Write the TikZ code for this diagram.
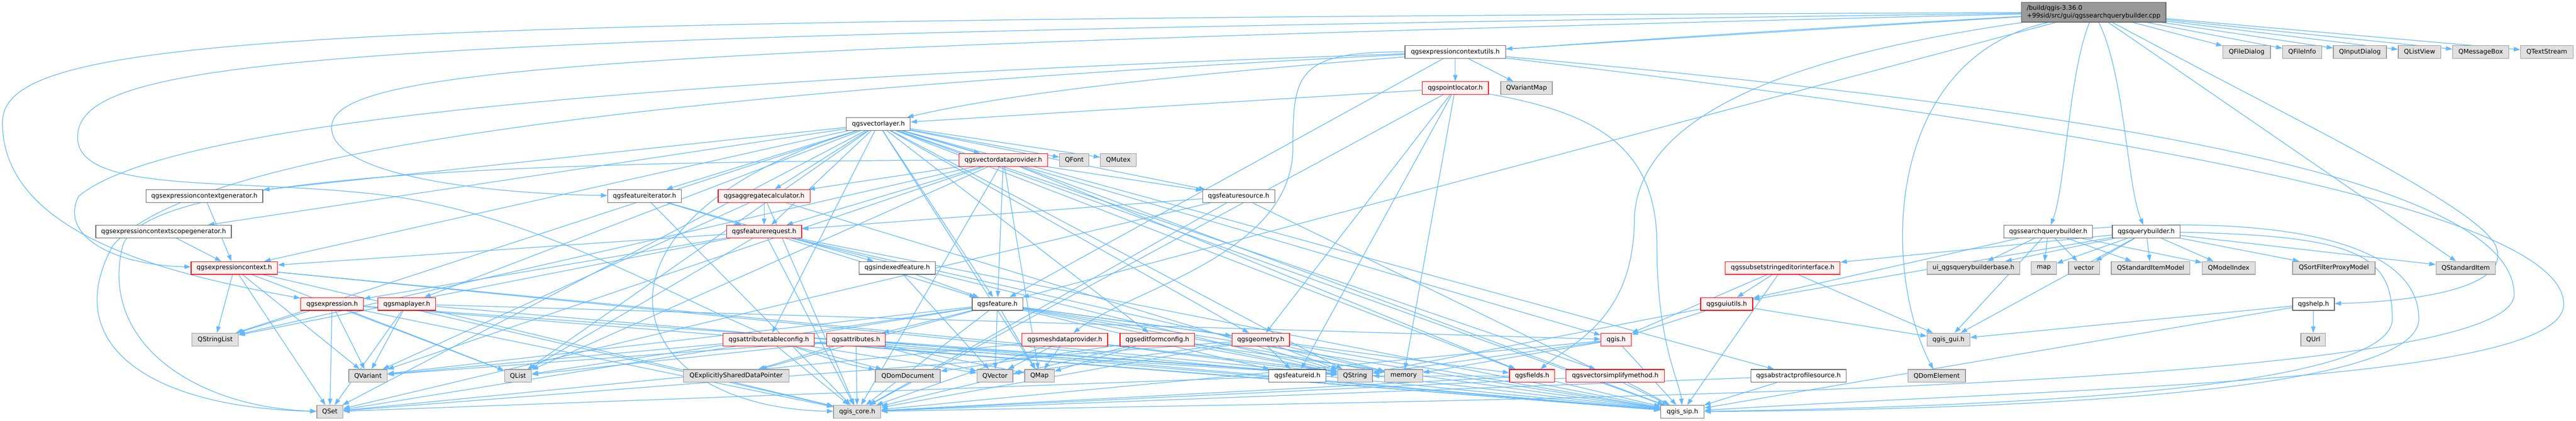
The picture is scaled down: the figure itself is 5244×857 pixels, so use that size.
\documentclass[tikz,border=0pt]{standalone}
\usepackage{fontspec}
\newfontfamily\dvs{DejaVu Sans}
\usepackage{tikz}
\usetikzlibrary{arrows.meta, backgrounds}
\definecolor{edgeblue}{RGB}{99,184,255}
\definecolor{filedraw}{RGB}{102,102,102}
\definecolor{truncfill}{RGB}{255,240,240}
\definecolor{extdraw}{RGB}{153,153,153}
\definecolor{extfill}{RGB}{224,224,224}
\definecolor{rootfill}{RGB}{153,153,153}
\tikzset{
  box/.style={draw, line width=1.3pt, minimum height=26pt, minimum width=#1,
    inner sep=0pt, font=\dvs\fontsize{12.9}{16}\selectfont},
  filenode/.style={box=#1, draw=filedraw, fill=white},
  truncnode/.style={box=#1, draw=red, fill=truncfill},
  extnode/.style={box=#1, draw=extdraw, fill=extfill},
  rootnode/.style={box=#1, minimum height=40pt, align=left, draw=filedraw, fill=rootfill},
  dep/.style={draw=edgeblue, line width=1.3pt, -{Triangle[length=13pt,width=9pt]}}
}

\begin{document}
\begin{tikzpicture}[x=1pt, y=-1pt]
      \useasboundingbox (0,0) rectangle (5244,857);
      \node[rootnode=294pt] (root) at (4262,25) {/build/qgis-3.36.0\\+99sid/src/gui/qgssearchquerybuilder.cpp};

      \node[filenode=205pt] (ctxutils) at (2962.5,106) {qgsexpressioncontextutils.h};
      \node[extnode=97pt] (qfiledialog) at (4573.5,106) {QFileDialog};
      \node[extnode=79pt] (qfileinfo) at (4686.5,106) {QFileInfo};
      \node[extnode=108pt] (qinputdialog) at (4804,106) {QInputDialog};
      \node[extnode=87pt] (qlistview) at (4925.5,106) {QListView};
      \node[extnode=114pt] (qmessagebox) at (5050,106) {QMessageBox};
      \node[extnode=107pt] (qtextstream) at (5184.5,106) {QTextStream};

      \node[truncnode=135pt] (pointloc) at (2962.5,179.5) {qgspointlocator.h};
      \node[extnode=105pt] (qvariantmap) at (3107.5,179.5) {QVariantMap};

      \node[filenode=130pt] (vlayer) at (1788,252.5) {qgsvectorlayer.h};

      \node[truncnode=181pt] (vdp) at (2042.5,326) {qgsvectordataprovider.h};
      \node[extnode=60pt] (qfont) at (2187,326) {QFont};
      \node[extnode=73pt] (qmutex) at (2276.5,326) {QMutex};

      \node[filenode=238pt] (ctxgen) at (416,399.5) {qgsexpressioncontextgenerator.h};
      \node[filenode=150pt] (fiter) at (1312,399.5) {qgsfeatureiterator.h};
      \node[truncnode=187pt] (aggcalc) at (1555.5,399.5) {qgsaggregatecalculator.h};
      \node[filenode=147pt] (fsource) at (2521.5,399.5) {qgsfeaturesource.h};

      \node[filenode=276pt] (ctxscope) at (333,472) {qgsexpressioncontextscopegenerator.h};
      \node[truncnode=153pt] (freq) at (1555.5,472) {qgsfeaturerequest.h};
      \node[filenode=181pt] (sqb) at (4169.5,472) {qgssearchquerybuilder.h};
      \node[filenode=138pt] (qb) at (4369,472) {qgsquerybuilder.h};

      \node[truncnode=176pt] (ectx) at (477,546) {qgsexpressioncontext.h};
      \node[filenode=155pt] (ifeat) at (1826.5,546) {qgsindexedfeature.h};
      \node[truncnode=234pt] (subset) at (3629,546) {qgssubsetstringeditorinterface.h};
      \node[extnode=189pt] (uiqb) at (4017.5,546) {ui\_qgsquerybuilderbase.h};
      \node[extnode=51pt] (map) at (4160.5,546) {map};
      \node[extnode=63pt] (vector) at (4242.5,546) {vector};
      \node[extnode=160pt] (qsim) at (4378,546) {QStandardItemModel};
      \node[extnode=108pt] (qmodelindex) at (4537,546) {QModelIndex};
      \node[extnode=168pt] (qsfpm) at (4751,546) {QSortFilterProxyModel};
      \node[extnode=121pt] (qsitem) at (5019.5,546) {QStandardItem};

      \node[truncnode=128pt] (expr) at (676,619.5) {qgsexpression.h};
      \node[truncnode=118pt] (mlayer) at (828,619.5) {qgsmaplayer.h};
      \node[filenode=103pt] (feat) at (2030.5,619.5) {qgsfeature.h};
      \node[truncnode=106pt] (guiutils) at (3515,619.5) {qgsguiutils.h};
      \node[filenode=85pt] (help) at (4709.5,619.5) {qgshelp.h};

      \node[extnode=94pt] (qstringlist) at (438,692) {QStringList};
      \node[truncnode=186pt] (atc) at (1565,692) {qgsattributetableconfig.h};
      \node[truncnode=119pt] (attrs) at (1742.5,692) {qgsattributes.h};
      \node[truncnode=175pt] (mesh) at (2167.5,692) {qgsmeshdataprovider.h};
      \node[truncnode=152pt] (efc) at (2356,692) {qgseditformconfig.h};
      \node[truncnode=117pt] (geom) at (2566.5,692) {qgsgeometry.h};
      \node[truncnode=62pt] (qgis) at (3290,692) {qgis.h};
      \node[extnode=87pt] (qgisgui) at (3966.5,692) {qgis\_gui.h};
      \node[extnode=50pt] (qurl) at (4709,692) {QUrl};

      \node[extnode=78pt] (qvariant) at (749,766) {QVariant};
      \node[extnode=55pt] (qlist) at (1054.5,766) {QList};
      \node[extnode=215pt] (qesdp) at (1498.5,766) {QExplicitlySharedDataPointer};
      \node[extnode=132pt] (qdomdoc) at (1848,766) {QDomDocument};
      \node[extnode=73pt] (qvector) at (2025.5,766) {QVector};
      \node[extnode=60pt] (qmap) at (2116,766) {QMap};
      \node[filenode=116pt] (fid) at (2641,766) {qgsfeatureid.h};
      \node[extnode=71pt] (qstring) at (2758.5,766) {QString};
      \node[extnode=77pt] (memory) at (2857.5,766) {memory};
      \node[truncnode=92pt] (fields) at (3119,766) {qgsfields.h};
      \node[truncnode=200pt] (vsm) at (3288,766) {qgsvectorsimplifymethod.h};
      \node[filenode=194pt] (aps) at (3661,766) {qgsabstractprofilesource.h};
      \node[extnode=117pt] (qdomelem) at (3942.5,766) {QDomElement};

      \node[extnode=53pt] (qset) at (671.5,839) {QSet};
      \node[extnode=96pt] (core) at (1745,839) {qgis\_core.h};
      \node[filenode=88pt] (sip) at (3425,839) {qgis\_sip.h};

    \begin{scope}[on background layer]
      \fill[white] (0,0) rectangle (5244,857);
      \foreach \t in {qfiledialog,qfileinfo,qinputdialog,qlistview,qmessagebox,qtextstream,qsitem,ctxutils,feat}
        \draw[dep] (root) -- (\t);
      \draw[dep] (root) .. controls (4211,150) and (4205,380) .. (sqb);
      \draw[dep] (root) .. controls (4325,150) and (4330,380) .. (qb);
      \draw[dep] (root) .. controls (4700,260) and (5040,420) .. (5080,500) .. controls (5120,590) and (4900,615) .. (help);
      \draw[dep] (root) .. controls (3835,120) and (3830,550) .. (qdomelem);
      \draw[dep] (root) .. controls (3600,120) and (3330,250) .. (3327,450) .. controls (3325,650) and (3200,700) .. (fields);
      \draw[dep] (root) .. controls (2600,120) and (2100,180) .. (vlayer);
      \draw[dep] (root) .. controls (600,40) and (5,70) .. (5,250) .. controls (5,480) and (350,560) .. (expr);
      \draw[dep] (root) .. controls (700,75) and (158,110) .. (158,280) .. controls (158,400) and (500,360) .. (800,400) .. controls (1200,460) and (1500,700) .. (qdomdoc);
      \draw[dep] (root) .. controls (1200,100) and (675,140) .. (675,260) .. controls (675,360) and (1000,395) .. (fiter);

      \foreach \t in {pointloc,qvariantmap,feat}
        \draw[dep] (ctxutils) -- (\t);
      \draw[dep] (ctxutils) .. controls (1400,160) and (350,240) .. (160,400) .. controls (120,480) and (230,540) .. (ectx);
      \draw[dep] (ctxutils) .. controls (1400,185) and (400,300) .. (230,500) .. controls (120,700) and (300,830) .. (qset);
      \draw[dep] (ctxutils) .. controls (2640,105) and (2632,150) .. (2632,300) .. controls (2632,520) and (2300,590) .. (mesh);
      \draw[dep] (ctxutils) .. controls (4000,230) and (5219,400) .. (5219,620) .. controls (5219,780) and (4200,790) .. (sip);
      \draw[dep] (ctxutils) .. controls (4000,200) and (5118,330) .. (5118,600) .. controls (5118,800) and (3000,815) .. (core);

      \foreach \t in {vlayer,fid,geom,memory,core}
        \draw[dep] (pointloc) -- (\t);
      \draw[dep] (pointloc) .. controls (3250,230) and (3373,300) .. (3373,500) .. controls (3373,700) and (3420,780) .. (sip);

      \foreach \t in {ctxgen,ctxscope,ectx,fiter,aggcalc,vdp,fsource,freq,feat,atc,efc,geom,mlayer,qgis,sip,fields,vsm,aps,qfont,qmutex,qset,qlist,qmap,qstringlist,qstring}
        \draw[dep] (vlayer) -- (\t);
      \draw[dep] (vlayer) .. controls (1150,450) and (1250,830) .. (core);

      \foreach \t in {aggcalc,freq,feat,fsource,fields,core,sip,qmap,qlist,qstringlist,qvariant}
        \draw[dep] (vdp) -- (\t);
      \draw[dep] (vdp) .. controls (1000,330) and (300,360) .. (250,500) .. controls (200,700) and (400,830) .. (qset);

      \foreach \t in {freq,ifeat,core}
        \draw[dep] (fiter) -- (\t);
      \foreach \t in {freq,core,qvariant,qstring}
        \draw[dep] (aggcalc) -- (\t);
      \foreach \t in {freq,core,sip,qset}
        \draw[dep] (fsource) -- (\t);
      \foreach \t in {feat,expr,ectx,core,sip,qlist,qstring,memory,qstringlist}
        \draw[dep] (freq) -- (\t);
      \draw[dep] (ctxgen) -- (ectx);
      \draw[dep] (ctxscope) -- (ectx);
      \foreach \t in {qstringlist,qset,qvariant,qlist,qstring,core,sip}
        \draw[dep] (ectx) -- (\t);
      \foreach \t in {qstringlist,qset,qvariant,qlist,qstring,core,sip}
        \draw[dep] (expr) -- (\t);
      \foreach \t in {qvariant,qset,qgis,core,sip}
        \draw[dep] (mlayer) -- (\t);
      \foreach \t in {feat,qvector}
        \draw[dep] (ifeat) -- (\t);
      \foreach \t in {qesdp,attrs,qvector,qmap,qlist,qvariant,qset,core,sip,qstring,fid,fields,geom,memory}
        \draw[dep] (feat) -- (\t);
      \foreach \t in {qvariant,qvector,qdomdoc,core,sip,qstring}
        \draw[dep] (atc) -- (\t);
      \foreach \t in {core,qesdp,qvariant,qlist,qvector,qmap,qstring,sip}
        \draw[dep] (attrs) -- (\t);
      \foreach \t in {qvector,qmap,core,sip,qstring,qset}
        \draw[dep] (mesh) -- (\t);
      \foreach \t in {qmap,qdomdoc,core,sip,qstring}
        \draw[dep] (efc) -- (\t);
      \foreach \t in {fid,qstring,memory,core,sip,qset,qvector}
        \draw[dep] (geom) -- (\t);
      \foreach \t in {core,sip,qstring,memory}
        \draw[dep] (qgis) -- (\t);
      \foreach \t in {qgis,qgisgui,qstring}
        \draw[dep] (guiutils) -- (\t);
      \foreach \t in {guiutils,qgisgui,qgis,sip}
        \draw[dep] (subset) -- (\t);
      \foreach \t in {uiqb,map,vector,qsim,qmodelindex,guiutils,qgisgui}
        \draw[dep] (sqb) -- (\t);
      \draw[dep] (sqb) .. controls (4600,440) and (4924,480) .. (4924,650) .. controls (4924,810) and (4000,835) .. (sip);
      \foreach \t in {subset,uiqb,map,vector,qsim,qmodelindex,qsfpm,qsitem,guiutils,qgisgui}
        \draw[dep] (qb) -- (\t);
      \draw[dep] (qb) .. controls (4800,480) and (4870,520) .. (4870,650) .. controls (4870,800) and (4000,830) .. (sip);
      \foreach \t in {qurl,qgisgui,sip}
        \draw[dep] (help) -- (\t);
      \foreach \t in {core,sip,qstring}
        \draw[dep] (fields) -- (\t);
      \foreach \t in {core,sip}
        \draw[dep] (vsm) -- (\t);
      \foreach \t in {core,sip}
        \draw[dep] (aps) -- (\t);
      \draw[dep] (fid) -- (qset);
    \end{scope}
    \end{tikzpicture}
\end{document}
